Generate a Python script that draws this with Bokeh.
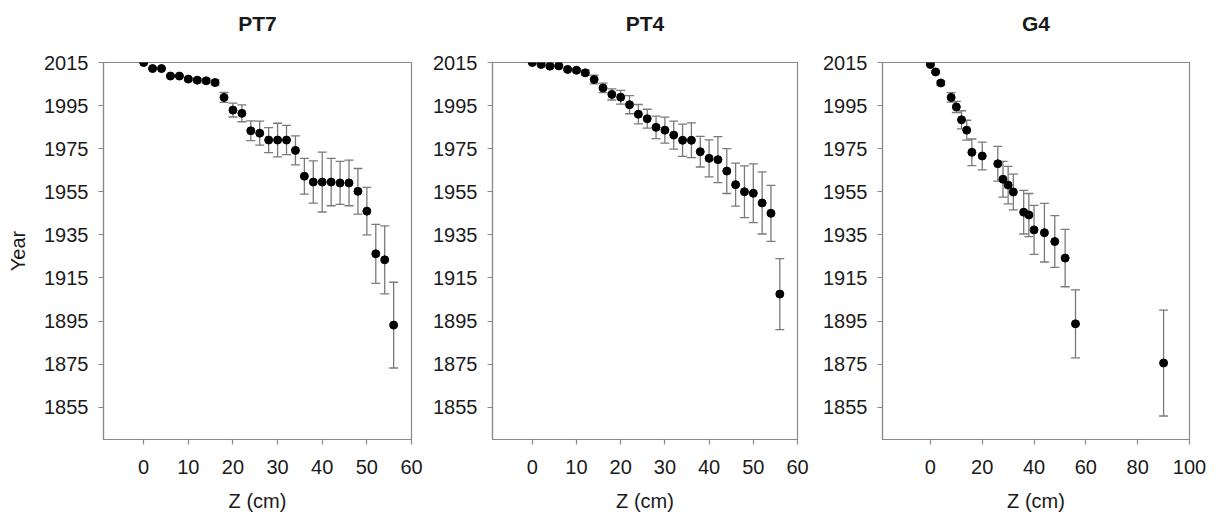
from bokeh.plotting import figure
from bokeh.layouts import row
from bokeh.models import Range1d, FixedTicker, ColumnDataSource, Whisker, TeeHead, LinearAxis
from bokeh.embed import file_html
from bokeh.resources import INLINE

# ---------------- data ----------------
pt7_z = [0, 2, 4, 6, 8, 10, 12, 14, 16, 18, 20, 22, 24, 26, 28, 30, 32, 34, 36, 38,
         40, 42, 44, 46, 48, 50, 52, 54, 56]
pt7_year = [2015.0, 2012.2, 2012.2, 2008.7, 2008.7, 2007.3, 2006.8, 2006.5, 2005.7, 1998.8,
            1992.9, 1991.4, 1983.3, 1982.2, 1979.0, 1979.0, 1979.0, 1974.2, 1962.2, 1959.5,
            1959.5, 1959.5, 1959.1, 1959.1, 1955.2, 1946.0, 1926.2, 1923.4, 1893.1]
pt7_err = [0.0, 0.3, 0.3, 0.5, 0.5, 0.7, 0.8, 0.9, 1.2, 2.3,
           3.2, 3.9, 4.6, 5.6, 5.8, 7.8, 6.8, 6.7, 8.3, 9.8,
           13.9, 11.0, 10.0, 10.6, 10.6, 11.0, 13.7, 15.8, 19.9]

pt4_z = [0, 2, 4, 6, 8, 10, 12, 14, 16, 18, 20, 22, 24, 26, 28, 30, 32, 34, 36, 38,
         40, 42, 44, 46, 48, 50, 52, 54, 56]
pt4_year = [2015.0, 2014.1, 2013.3, 2013.4, 2011.8, 2011.4, 2010.2, 2007.1, 2003.2, 2000.2,
            1998.9, 1995.4, 1991.0, 1988.9, 1984.9, 1983.6, 1981.3, 1978.9, 1978.9, 1973.6,
            1970.5, 1969.9, 1964.6, 1958.3, 1955.0, 1954.3, 1949.8, 1945.0, 1907.5]
pt4_err = [0.2, 0.3, 0.4, 0.5, 0.6, 0.8, 1.2, 2.0, 2.2, 2.6,
           3.2, 4.2, 4.5, 4.4, 5.2, 6.0, 6.5, 7.5, 8.1, 7.1,
           8.6, 10.7, 10.4, 10.0, 12.0, 13.6, 14.4, 13.0, 16.5]

g4_z = [0, 2, 4, 8, 10, 12, 14, 16, 20, 26, 28, 30, 32, 36, 38, 40, 44, 48, 52, 56, 90]
g4_year = [2014.1, 2010.6, 2005.5, 1998.8, 1994.4, 1988.4, 1983.6, 1973.3, 1971.6, 1968.0,
           1960.8, 1958.1, 1954.9, 1945.5, 1944.2, 1937.3, 1936.0, 1931.9, 1924.2, 1893.7,
           1875.5]
g4_err = [0.3, 0.5, 1.0, 2.2, 2.6, 4.2, 4.6, 6.2, 6.4, 8.1,
          8.3, 8.7, 8.3, 10.1, 10.0, 11.4, 13.6, 12.0, 13.3, 15.8, 24.6]

titles = ["PT7", "PT4", "G4"]
year_ticks = [1855, 1875, 1895, 1915, 1935, 1955, 1975, 1995, 2015]
z_ticks_60 = [0, 10, 20, 30, 40, 50, 60]
z_ticks_100 = [0, 20, 40, 60, 80, 100]
x_label = "Z (cm)"
y_label = "Year"

# ---------------- styling ----------------
FONT = "Liberation Sans"
AXIS_GRAY = "#8a8a8a"
ERR_GRAY = "#7a7a7a"
TEXT = "#1a1a1a"


def make_panel(title, z, year, err, xr, xticks, width, left, right, show_ylabel):
    p = figure(width=width, height=514, x_range=Range1d(*xr), y_range=Range1d(1840, 2015),
               output_backend="svg", toolbar_location=None,
               min_border_left=left, min_border_right=right,
               min_border_top=62, min_border_bottom=74)

    p.xgrid.visible = False
    p.ygrid.visible = False
    p.outline_line_color = AXIS_GRAY
    p.outline_line_width = 1.2
    p.background_fill_color = "white"
    p.border_fill_color = "white"

    for ax in (p.xaxis[0], p.yaxis[0]):
        ax.axis_line_color = AXIS_GRAY
        ax.axis_line_width = 1.2
        ax.major_tick_line_color = AXIS_GRAY
        ax.major_tick_line_width = 1.2
        ax.major_tick_in = 0
        ax.major_tick_out = 5
        ax.minor_tick_line_color = None
        ax.major_label_text_font = FONT
        ax.major_label_text_font_size = "20px"
        ax.major_label_text_color = TEXT
        ax.axis_label_text_font = FONT
        ax.axis_label_text_font_size = "20px"
        ax.axis_label_text_font_style = "normal"
        ax.axis_label_text_color = TEXT

    p.xaxis.ticker = FixedTicker(ticks=xticks)
    p.yaxis.ticker = FixedTicker(ticks=year_ticks)
    p.xaxis.axis_label = x_label
    p.xaxis.major_label_standoff = 15
    p.xaxis.axis_label_standoff = 13
    p.yaxis.major_label_standoff = 10
    if show_ylabel:
        p.yaxis.axis_label = y_label
        p.yaxis.axis_label_standoff = 12

    # panel title: a bare axis above the frame carrying only its label
    top = LinearAxis(ticker=FixedTicker(ticks=[]), axis_label=title,
                     axis_line_color=None, major_tick_line_color=None,
                     minor_tick_line_color=None, major_tick_out=0, major_tick_in=0,
                     major_label_standoff=0, axis_label_standoff=28,
                     axis_label_text_font=FONT, axis_label_text_font_size="21px",
                     axis_label_text_font_style="bold", axis_label_text_color=TEXT)
    p.add_layout(top, "above")

    src = ColumnDataSource(dict(
        z=z, year=year,
        lower=[y - e for y, e in zip(year, err)],
        upper=[y + e for y, e in zip(year, err)],
    ))
    w = Whisker(source=src, base="z", lower="lower", upper="upper", dimension="height",
                line_color=ERR_GRAY, line_width=1.3,
                lower_head=TeeHead(size=9, line_color=ERR_GRAY, line_width=1.3),
                upper_head=TeeHead(size=9, line_color=ERR_GRAY, line_width=1.3))
    p.add_layout(w)
    p.scatter("z", "year", source=src, size=8, fill_color="black", line_color="black")
    return p


p1 = make_panel(titles[0], pt7_z, pt7_year, pt7_err, (-9, 60), z_ticks_60, 430, 103, 19, True)
p2 = make_panel(titles[1], pt4_z, pt4_year, pt4_err, (-9, 60), z_ticks_60, 390, 60, 23, False)
p3 = make_panel(titles[2], g4_z, g4_year, g4_err, (-18.5, 100), z_ticks_100, 399, 60, 30, False)

layout = row(p1, p2, p3)
open("out.html", "w").write(file_html(layout, INLINE))
